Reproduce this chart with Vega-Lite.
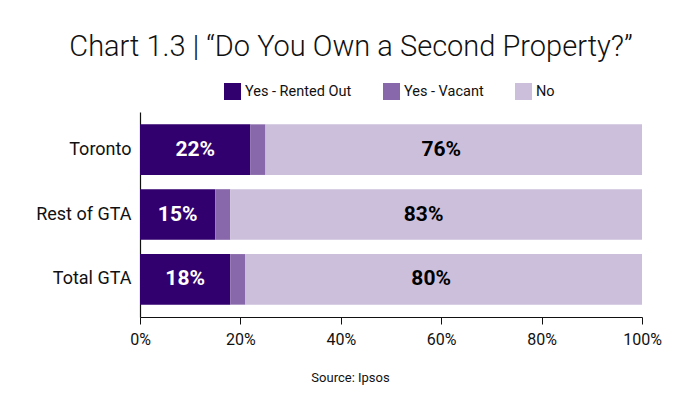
{
  "$schema": "https://vega.github.io/schema/vega-lite/v6.json",
  "width": 502,
  "height": 205,
  "autosize": {"type": "none"},
  "padding": {"left": 140, "top": 112, "right": 51, "bottom": 85},
  "background": "white",
  "title": {
    "text": "Chart 1.3 | “Do You Own a Second Property?”",
    "fontSize": 29,
    "fontWeight": 300,
    "font": "Roboto, Liberation Sans, sans-serif",
    "color": "#111111",
    "anchor": "middle",
    "dx": -40,
    "offset": 21
  },
  "data": {
    "values": [
      {"region": "Toronto", "answer": "Yes - Rented Out", "order": 1, "share": 0.22},
      {"region": "Toronto", "answer": "Yes - Vacant", "order": 2, "share": 0.03},
      {"region": "Toronto", "answer": "No", "order": 3, "share": 0.76},
      {"region": "Rest of GTA", "answer": "Yes - Rented Out", "order": 1, "share": 0.15},
      {"region": "Rest of GTA", "answer": "Yes - Vacant", "order": 2, "share": 0.03},
      {"region": "Rest of GTA", "answer": "No", "order": 3, "share": 0.83},
      {"region": "Total GTA", "answer": "Yes - Rented Out", "order": 1, "share": 0.18},
      {"region": "Total GTA", "answer": "Yes - Vacant", "order": 2, "share": 0.03},
      {"region": "Total GTA", "answer": "No", "order": 3, "share": 0.80}
    ]
  },
  "encoding": {
    "y": {
      "field": "region",
      "type": "nominal",
      "sort": ["Toronto", "Rest of GTA", "Total GTA"],
      "scale": {"paddingInner": 0.22, "paddingOuter": 0.19},
      "axis": {
        "title": null,
        "ticks": false,
        "labelPadding": 9,
        "labelFontSize": 18,
        "labelColor": "#111111",
        "labelFont": "Roboto, Liberation Sans, sans-serif",
        "domainColor": "#111111",
        "domainWidth": 1.2
      }
    },
    "x": {
      "field": "share",
      "type": "quantitative",
      "stack": "zero",
      "scale": {"domain": [0, 1], "nice": false},
      "axis": {
        "values": [0, 0.2, 0.4, 0.6, 0.8, 1],
        "format": ".0%",
        "grid": false,
        "labelFlush": false,
        "tickSize": 7,
        "tickColor": "#111111",
        "domainColor": "#111111",
        "domainWidth": 1.2,
        "labelPadding": 7,
        "labelFontSize": 16,
        "labelColor": "#111111",
        "labelFont": "Roboto, Liberation Sans, sans-serif",
        "title": "Source: Ipsos",
        "titleFont": "Roboto, Liberation Sans, sans-serif",
        "titleFontSize": 13,
        "titleFontWeight": "normal",
        "titleColor": "#111111",
        "titleX": 210,
        "titleY": 64,
        "titleAlign": "center",
        "titleBaseline": "alphabetic"
      }
    },
    "order": {"field": "order", "type": "quantitative"}
  },
  "layer": [
    {
      "mark": {"type": "bar", "clip": true},
      "encoding": {
        "color": {
          "field": "answer",
          "type": "nominal",
          "scale": {
            "domain": ["Yes - Rented Out", "Yes - Vacant", "No"],
            "range": ["#32006e", "#8867ab", "#ccbfdc"]
          },
          "legend": {
            "title": null,
            "orient": "none",
            "legendX": 84,
            "legendY": -29,
            "direction": "horizontal",
            "symbolType": "square",
            "symbolSize": 289,
            "symbolStrokeWidth": 0,
            "symbolOpacity": 1,
            "labelFontSize": 14.5,
            "labelColor": "#111111",
            "labelFont": "Roboto, Liberation Sans, sans-serif",
            "labelOffset": 4,
            "columnPadding": 31
          }
        }
      }
    },
    {
      "transform": [{"filter": "datum.answer !== 'Yes - Vacant'"}],
      "mark": {
        "type": "text",
        "fontSize": 21,
        "fontWeight": "bold",
        "font": "Roboto, Liberation Sans, sans-serif",
        "baseline": "middle",
        "align": "center"
      },
      "encoding": {
        "x": {"field": "share", "type": "quantitative", "stack": "zero", "bandPosition": 0.5},
        "text": {"field": "share", "type": "quantitative", "format": ".0%"},
        "color": {
          "condition": {"test": "datum.answer === 'Yes - Rented Out'", "value": "white"},
          "value": "black"
        }
      }
    }
  ],
  "config": {
    "view": {"stroke": null}
  }
}
